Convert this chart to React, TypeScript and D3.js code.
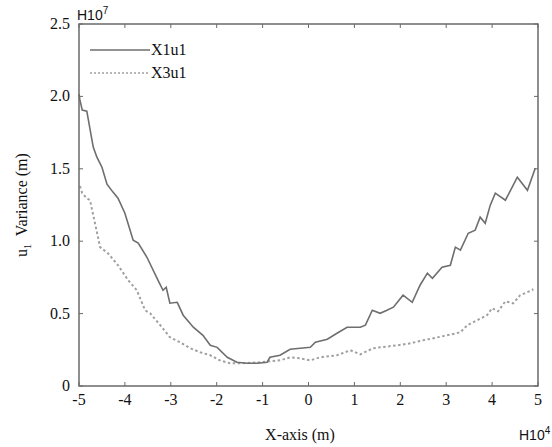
import React from "react";
import * as d3 from "d3";

const xTicks = [-5, -4, -3, -2, -1, 0, 1, 2, 3, 4, 5];
const yTicks = [0, 0.5, 1.0, 1.5, 2.0, 2.5];
const yTickLabels = ["0", "0.5", "1.0", "1.5", "2.0", "2.5"];

const x1X = [-5.0, -4.98, -4.93, -4.83, -4.69, -4.61, -4.5, -4.39, -4.26, -4.15, -4.0, -3.82, -3.71, -3.52, -3.28, -3.17, -3.1, -3.02, -2.86, -2.73, -2.51, -2.3, -2.14, -1.99, -1.77, -1.56, -1.34, -1.12, -0.9, -0.84, -0.62, -0.4, -0.18, 0.04, 0.15, 0.41, 0.62, 0.84, 1.13, 1.24, 1.39, 1.56, 1.71, 1.85, 2.06, 2.26, 2.43, 2.59, 2.7, 2.91, 3.09, 3.2, 3.31, 3.48, 3.63, 3.74, 3.85, 3.96, 4.07, 4.29, 4.55, 4.77, 4.94];
const x1Y = [2.016, 1.976, 1.905, 1.898, 1.65, 1.58, 1.511, 1.394, 1.339, 1.297, 1.193, 1.007, 0.987, 0.889, 0.731, 0.661, 0.682, 0.572, 0.578, 0.489, 0.406, 0.35, 0.281, 0.267, 0.198, 0.164, 0.157, 0.157, 0.164, 0.198, 0.212, 0.254, 0.261, 0.267, 0.302, 0.323, 0.364, 0.406, 0.406, 0.42, 0.523, 0.502, 0.523, 0.544, 0.627, 0.578, 0.696, 0.779, 0.744, 0.82, 0.834, 0.959, 0.938, 1.055, 1.076, 1.166, 1.124, 1.249, 1.332, 1.283, 1.442, 1.352, 1.504];

const x3X = [-4.98, -4.93, -4.83, -4.76, -4.54, -4.37, -4.15, -3.93, -3.74, -3.56, -3.45, -3.23, -3.02, -2.8, -2.58, -2.36, -2.14, -1.93, -1.71, -1.49, -1.05, -0.62, -0.4, -0.18, 0.04, 0.25, 0.62, 0.91, 1.13, 1.41, 1.93, 2.22, 2.5, 2.72, 3.02, 3.31, 3.46, 3.68, 3.89, 4.0, 4.13, 4.29, 4.46, 4.61, 4.77, 4.9];
const x3Y = [1.38, 1.332, 1.297, 1.283, 0.959, 0.917, 0.834, 0.731, 0.661, 0.523, 0.502, 0.42, 0.337, 0.302, 0.261, 0.233, 0.212, 0.177, 0.157, 0.157, 0.164, 0.177, 0.198, 0.191, 0.177, 0.198, 0.212, 0.247, 0.219, 0.261, 0.281, 0.295, 0.316, 0.33, 0.35, 0.371, 0.42, 0.455, 0.489, 0.537, 0.516, 0.585, 0.571, 0.627, 0.648, 0.668];

const seriesNames = ["X1u1", "X3u1"];

const W = 552, H = 447;
const L = 79, R = 538, T = 24, B = 386;

export default function App() {
  const x = d3.scaleLinear().domain([-5, 5]).range([L, R]);
  const y = d3.scaleLinear().domain([0, 2.5]).range([B, T]);
  const line = d3.line<[number, number]>().x(d => x(d[0])).y(d => y(d[1]));
  const s1 = line(x1X.map((v, i) => [v, x1Y[i]] as [number, number])) || "";
  const s3 = line(x3X.map((v, i) => [v, x3Y[i]] as [number, number])) || "";
  const axisColor = "#6a6a6a";
  const serif = "Liberation Serif";
  const sans = "Liberation Sans";
  return (
    <svg width={W} height={H} style={{ position: "absolute", left: 0, top: 0, background: "#fff" }}>
      <path d={s3} fill="none" stroke="#a0a0a0" strokeWidth={2} strokeDasharray="2.5,2.5" />
      <path d={s1} fill="none" stroke="#6e6e6e" strokeWidth={1.6} />
      <rect x={L} y={T} width={R - L} height={B - T} fill="none" stroke={axisColor} strokeWidth={1.5} />
      {xTicks.map((t, i) => (
        <g key={"xt" + i}>
          <line x1={x(t)} x2={x(t)} y1={B} y2={B - 4} stroke={axisColor} strokeWidth={1} />
          <line x1={x(t)} x2={x(t)} y1={T} y2={T + 4} stroke={axisColor} strokeWidth={1} />
          <text x={x(t)} y={405} textAnchor="middle" fontFamily={serif} fontSize={16} fill="#111">{String(t)}</text>
        </g>
      ))}
      {yTicks.map((t, i) => (
        <g key={"yt" + i}>
          <line x1={L} x2={L + 4} y1={y(t)} y2={y(t)} stroke={axisColor} strokeWidth={1} />
          <line x1={R} x2={R - 4} y1={y(t)} y2={y(t)} stroke={axisColor} strokeWidth={1} />
          <text x={70} y={y(t) + 5} textAnchor="end" fontFamily={serif} fontSize={16} fill="#111">{yTickLabels[i]}</text>
        </g>
      ))}
      <text x={77} y={20} fontFamily={sans} fontSize={14} fill="#111">
        H10<tspan dy={-6} fontSize={10}>7</tspan>
      </text>
      <text x={519} y={440} fontFamily={sans} fontSize={14} fill="#111">
        H10<tspan dy={-6} fontSize={10}>4</tspan>
      </text>
      <text x={300} y={440} textAnchor="middle" fontFamily={serif} fontSize={16} fill="#111">X-axis (m)</text>
      <text transform={`translate(27,205) rotate(-90)`} textAnchor="middle" fontFamily={serif} fontSize={16} fill="#111">
        u<tspan dy={4} fontSize={10}>1</tspan><tspan dy={-4} xmlSpace="preserve">{"  Variance (m)"}</tspan>
      </text>
      <line x1={90} x2={150} y1={50} y2={50} stroke="#6e6e6e" strokeWidth={1.6} />
      <text x={151} y={55} fontFamily={serif} fontSize={16} fill="#111">{seriesNames[0]}</text>
      <line x1={90} x2={150} y1={73} y2={73} stroke="#a0a0a0" strokeWidth={1.5} strokeDasharray="2,2" />
      <text x={151} y={78} fontFamily={serif} fontSize={16} fill="#111">{seriesNames[1]}</text>
    </svg>
  );
}
